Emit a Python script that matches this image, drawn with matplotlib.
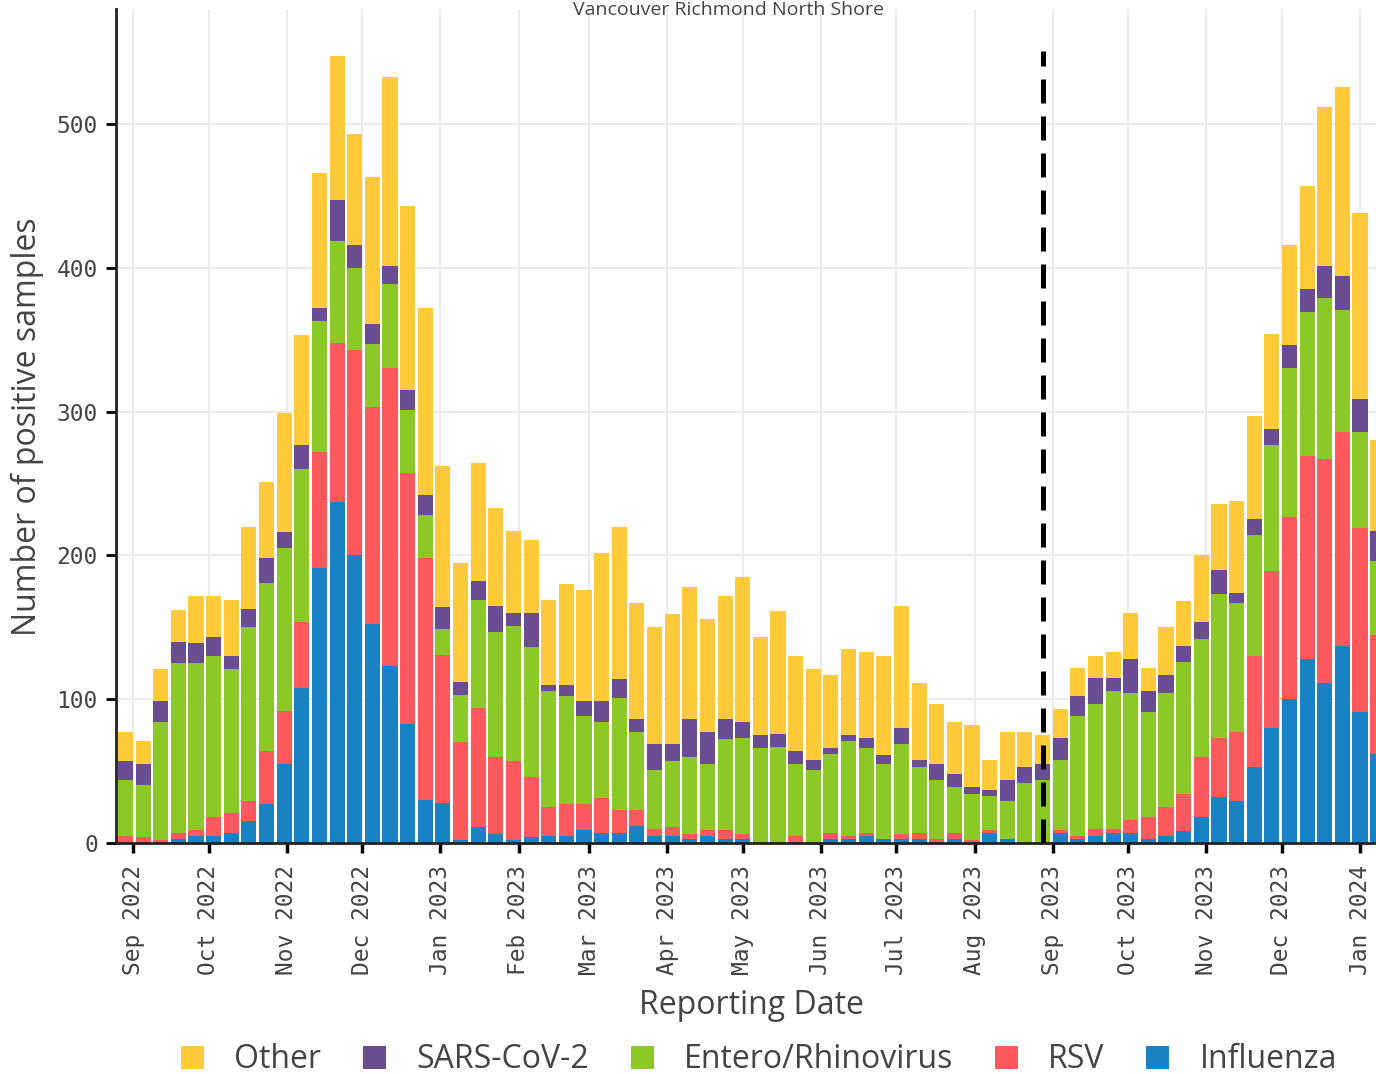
import numpy as np
import pandas as pd
import matplotlib
matplotlib.use('Agg')
import matplotlib.pyplot as plt
import matplotlib.dates as mdates

# weekly counts, bottom to top of each stack
week_start = '2022-08-29'
influenza = [1, 0, 0, 3, 5, 5, 7, 15, 27, 55, 108, 191, 237, 200, 152, 123, 83, 30,
             28, 2, 11, 6, 2, 4, 5, 5, 9, 7, 7, 12, 5, 5, 3, 5, 3, 3,
             0, 0, 1, 1, 3, 3, 5, 3, 3, 3, 1, 3, 1, 7, 3, 0, 0, 7,
             3, 5, 7, 7, 3, 5, 8, 18, 32, 29, 53, 80, 100, 128, 111, 137, 91, 62]
rsv = [4, 4, 2, 4, 4, 13, 14, 14, 37, 37, 46, 81, 111, 143, 151, 207, 174, 168,
       103, 68, 83, 54, 55, 42, 20, 22, 18, 24, 16, 11, 5, 6, 3, 4, 6, 3,
       1, 1, 4, 0, 4, 2, 2, 0, 3, 4, 2, 4, 1, 2, 0, 1, 1, 2,
       2, 5, 3, 9, 15, 20, 26, 42, 41, 48, 77, 109, 127, 141, 156, 149, 128, 83]
entero = [39, 36, 82, 118, 116, 112, 100, 121, 117, 113, 106, 91, 71, 57, 44, 59, 44, 30,
          18, 33, 75, 87, 94, 90, 81, 75, 61, 53, 78, 54, 41, 46, 54, 46, 63, 67,
          65, 66, 50, 50, 55, 66, 59, 52, 63, 46, 41, 32, 32, 24, 26, 41, 43, 49,
          83, 87, 96, 88, 73, 79, 92, 82, 100, 90, 84, 88, 103, 100, 112, 85, 67, 51]
sars = [13, 15, 15, 15, 14, 13, 9, 13, 17, 11, 17, 9, 28, 16, 14, 12, 14, 14,
        15, 9, 13, 18, 9, 24, 4, 8, 11, 15, 13, 9, 18, 12, 26, 22, 14, 11,
        9, 9, 9, 7, 4, 4, 7, 6, 11, 5, 11, 9, 5, 4, 15, 11, 11, 15,
        14, 18, 9, 24, 15, 13, 11, 12, 17, 7, 11, 11, 16, 16, 22, 23, 23, 21]
other = [20, 16, 22, 22, 33, 29, 39, 57, 53, 83, 76, 94, 100, 77, 102, 132, 128, 130,
         98, 83, 82, 68, 57, 51, 59, 70, 77, 103, 106, 81, 81, 90, 92, 79, 86, 101,
         68, 85, 66, 63, 51, 60, 60, 69, 85, 53, 42, 36, 43, 21, 33, 24, 20, 20,
         20, 15, 18, 32, 16, 33, 31, 46, 46, 64, 72, 66, 70, 72, 111, 132, 129, 63]

series = [
    ('Influenza', influenza, '#1982C4'),
    ('RSV', rsv, '#FF595E'),
    ('Entero/Rhinovirus', entero, '#8AC926'),
    ('SARS-CoV-2', sars, '#6A4C93'),
    ('Other', other, '#FFCA3A'),
]
season_break = '2023-08-28'
title = 'Vancouver Richmond North Shore'

W, H = 1376, 1074
fig = plt.figure(figsize=(W / 100, H / 100), dpi=100)
ax = fig.add_axes([116 / W, 1 - 843 / H, 1 - 116 / W, (843 - 9) / H])

dates = pd.date_range(week_start, periods=len(influenza), freq='7D')
x = mdates.date2num(dates)

bottom = np.zeros(len(x))
handles = {}
for name, vals, col in series:
    vals = np.array(vals, dtype=float)
    b = ax.bar(x, vals, width=6.0, bottom=bottom, color=col, linewidth=0,
               label=name, zorder=2)
    handles[name] = b
    bottom += vals

xb = mdates.date2num(pd.Timestamp(season_break))
ax.plot([xb, xb], [0, 551], color='black', lw=3.6, dashes=(4.8, 2.6), zorder=4)

ax.set_xlim(mdates.date2num(pd.Timestamp('2022-08-25 06:00')),
            mdates.date2num(pd.Timestamp('2024-01-07 08:00')))
ax.set_ylim(0, 580)

months = pd.date_range('2022-09-01', '2024-01-01', freq='MS')
ax.set_xticks(mdates.date2num(months))
ax.set_xticklabels([m.strftime('%b %Y') for m in months], rotation=90,
                   family='DejaVu Sans Mono', fontsize=16.5, color='#444444')
ax.set_yticks([0, 100, 200, 300, 400, 500])
ax.set_yticklabels(['0', '100', '200', '300', '400', '500'],
                   family='DejaVu Sans Mono', fontsize=16.5, color='#444444')
ax.tick_params(axis='x', length=7, width=2.5, color='black', pad=9)
ax.tick_params(axis='y', length=7, width=2, color='black', pad=6)

ax.grid(True, color='#ebebeb', lw=1.5, zorder=0)
ax.set_axisbelow(True)
for s in ('top', 'right'):
    ax.spines[s].set_visible(False)
ax.spines['left'].set_linewidth(2)
ax.spines['left'].set_color('#222222')
ax.spines['bottom'].set_linewidth(2)
ax.spines['bottom'].set_color('#222222')

font = ['Open Sans', 'DejaVu Sans']
fig.text(751 / W, 1 - 1005 / H, 'Reporting Date', ha='center', va='center',
         family=font, fontsize=23, color='#444444')
fig.text(27 / W, 1 - 427 / H, 'Number of positive samples', ha='center',
         va='center', rotation=90, family=font, fontsize=23, color='#444444')
fig.text(728 / W, 1 - 1 / H, title, ha='center', va='top',
         family=font, fontsize=14, color='#444444')

order = ['Other', 'SARS-CoV-2', 'Entero/Rhinovirus', 'RSV', 'Influenza']
leg = fig.legend([handles[n] for n in order], order, loc='center',
                 bbox_to_anchor=(759 / W, 1 - 1060 / H), ncol=5, frameon=False,
                 handlelength=0.72, handleheight=0.72, handletextpad=0.95,
                 columnspacing=1.3, prop={'family': font, 'size': 23})
for t in leg.get_texts():
    t.set_color('#444444')

fig.savefig('out.png', dpi=100)
